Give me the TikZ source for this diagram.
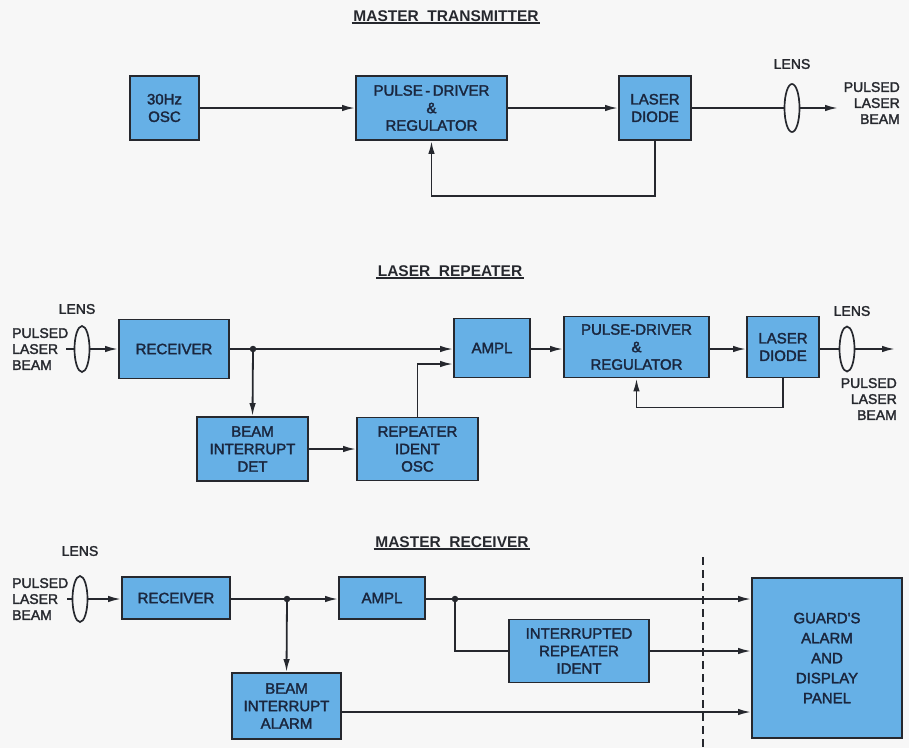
\documentclass[tikz,border=0pt]{standalone}
\usepackage{fontspec}
\setmainfont{Liberation Sans}
\newfontfamily\lett{Liberation Sans}[FakeBold=2]
\usetikzlibrary{arrows.meta,calc,shapes.geometric}
\definecolor{boxblue}{RGB}{102,176,230}
\definecolor{ink}{RGB}{38,40,46}
\definecolor{txt}{RGB}{26,38,62}
\definecolor{bg}{RGB}{247,247,247}
\begin{document}
\begin{tikzpicture}[x=1pt,y=-1pt,
  blk/.style={draw=ink,line width=1.9pt,fill=boxblue,text=txt,font=\lett\fontsize{15}{17.5}\selectfont,align=center,inner sep=2pt},
  ln/.style={draw=ink,line width=1.8pt},
  arr/.style={ln,-{Latex[length=13pt,width=6.5pt]}},
  lensshape/.style={ellipse,draw=ink,line width=1.7pt,fill=bg,minimum width=15pt,minimum height=46pt,inner sep=0pt},
  lbl/.style={text=ink,font=\lett\fontsize{14}{16}\selectfont,inner sep=0pt},
  ttl/.style={text=ink,font=\bfseries\fontsize{15.5}{17}\selectfont,inner sep=1.5pt},
  dot/.style={circle,fill=ink,inner sep=0pt,minimum size=6.5pt}
]
\fill[bg] (0,0) rectangle (909,748);
\useasboundingbox (0,0) rectangle (909,748);

% ---------------- MASTER TRANSMITTER ----------------
\node[ttl] (t1) at (446,16) {MASTER\ \ TRANSMITTER};
\draw[ink,line width=1.6pt] (t1.south west) -- (t1.south east);

\node[blk,minimum width=69pt,minimum height=64pt] (osc) at (164.5,108) {30Hz\\OSC};
\node[blk,minimum width=151pt,minimum height=64pt] (pd1) at (431.5,108) {PULSE\,-\,DRIVER\\\&\\REGULATOR};
\node[blk,minimum width=72pt,minimum height=64pt] (ld1) at (655,108) {LASER\\DIODE};
\node[lensshape,minimum height=48pt] (lens1) at (792,108) {};
\coordinate (out1) at (838,108);
\node[lbl] (lenslbl1) at (792,64) {LENS};
\node[lbl,align=right,anchor=east] (plb1) at (900,103) {PULSED\\LASER\\BEAM};

\draw[arr] (osc) -- (pd1);
\draw[arr] (pd1) -- (ld1);
\draw[ln] (ld1) -- (lens1);
\draw[arr] (lens1) -- (out1);
\draw[arr] (ld1.south) -- ++(0,55) -| (pd1.south);

% ---------------- LASER REPEATER ----------------
\node[ttl] (t2) at (450,271) {LASER\ \ REPEATER};
\draw[ink,line width=1.6pt] (t2.south west) -- (t2.south east);

\node[lbl] (lenslbl2) at (77,309) {LENS};
\node[lbl,align=left,anchor=west] (plb2) at (12,349) {PULSED\\LASER\\BEAM};
\node[lensshape] (lens2) at (82,349) {};
\coordinate (dash2) at (66,349);
\node[blk,minimum width=110pt,minimum height=59pt] (rec2) at (174,349) {RECEIVER};
\coordinate (j2) at (253,349);
\node[blk,minimum width=111pt,minimum height=64pt] (bid) at (252.5,449) {BEAM\\INTERRUPT\\DET};
\node[blk,minimum width=121pt,minimum height=63pt] (rio) at (417.5,449) {REPEATER\\IDENT\\OSC};
\node[blk,minimum width=76pt,minimum height=59pt] (amp2) at (492,348) {AMPL};
\node[blk,minimum width=145pt,minimum height=61pt] (pd2) at (636.5,347) {PULSE-DRIVER\\\&\\REGULATOR};
\node[blk,minimum width=72pt,minimum height=61pt] (ld2) at (783,347) {LASER\\DIODE};
\node[lensshape,minimum height=45pt] (lens3) at (847,349) {};
\coordinate (out2) at (895,349);
\node[lbl] (lenslbl3) at (852,311) {LENS};
\node[lbl,align=right,anchor=east] (plb3) at (897,399) {PULSED\\LASER\\BEAM};

\draw[ln] (dash2) -- (lens2);
\draw[arr] (lens2) -- (rec2.west |- lens2);
\draw[ln] (rec2.east |- j2) -- (j2);
\draw[arr] (j2) -- (j2 -| amp2.west);
\draw[arr] (j2) -- (bid.north);
\draw[arr] (bid) -- (rio);
\draw[arr] (rio.north) |- ([yshift=-16pt]amp2.west);
\draw[arr] (amp2.east |- j2) -- (pd2.west |- j2);
\draw[arr] (pd2.east |- j2) -- (ld2.west |- j2);
\draw[ln] (ld2.east |- j2) -- (lens3);
\draw[arr] (lens3) -- (out2);
\draw[arr] (ld2.south) -- ++(0,29) -| (pd2.south);
\node[dot] at (j2) {};

% ---------------- MASTER RECEIVER ----------------
\node[ttl] (t3) at (452,542) {MASTER\ \ RECEIVER};
\draw[ink,line width=1.6pt] (t3.south west) -- (t3.south east);

\node[lbl] (lenslbl4) at (80,551) {LENS};
\node[lbl,align=left,anchor=west] (plb4) at (12,599) {PULSED\\LASER\\BEAM};
\node[lensshape] (lens4) at (80,599) {};
\coordinate (dash4) at (67,599);
\node[blk,minimum width=108pt,minimum height=42pt] (rec3) at (176,598) {RECEIVER};
\coordinate (j3a) at (287,599);
\node[blk,minimum width=86pt,minimum height=42pt] (amp3) at (382,598) {AMPL};
\coordinate (j3b) at (455,599);
\node[blk,minimum width=150pt,minimum height=160pt,font=\lett\fontsize{15}{20}\selectfont] (panel) at (827,658) {GUARD'S\\ALARM\\AND\\DISPLAY\\PANEL};
\node[blk,minimum width=140pt,minimum height=63pt] (iri) at (579,651) {INTERRUPTED\\REPEATER\\IDENT};
\node[blk,minimum width=109pt,minimum height=66pt] (bia) at (286.5,706) {BEAM\\INTERRUPT\\ALARM};

\draw[ln,dash pattern=on 8pt off 5pt] (703,557) coordinate (dtop) -- (703,748) coordinate (dbot);

\draw[ln] (dash4) -- (lens4);
\draw[arr] (lens4) -- (rec3.west |- lens4);
\draw[ln] (rec3.east |- j3a) -- (j3a);
\draw[arr] (j3a) -- (j3a -| amp3.west);
\draw[arr] (j3a) -- (bia.north);
\draw[ln] (amp3.east |- j3b) -- (j3b);
\draw[arr] (j3b) -- (j3b -| panel.west);
\draw[ln] (j3b) |- (iri.west);
\draw[arr] (iri.east) -- (iri.east -| panel.west);
\draw[arr] ([yshift=-6pt]bia.east) -- ([yshift=-6pt]bia.east -| panel.west);
\node[dot] at (j3a) {};
\node[dot] at (j3b) {};
\end{tikzpicture}
\end{document}
